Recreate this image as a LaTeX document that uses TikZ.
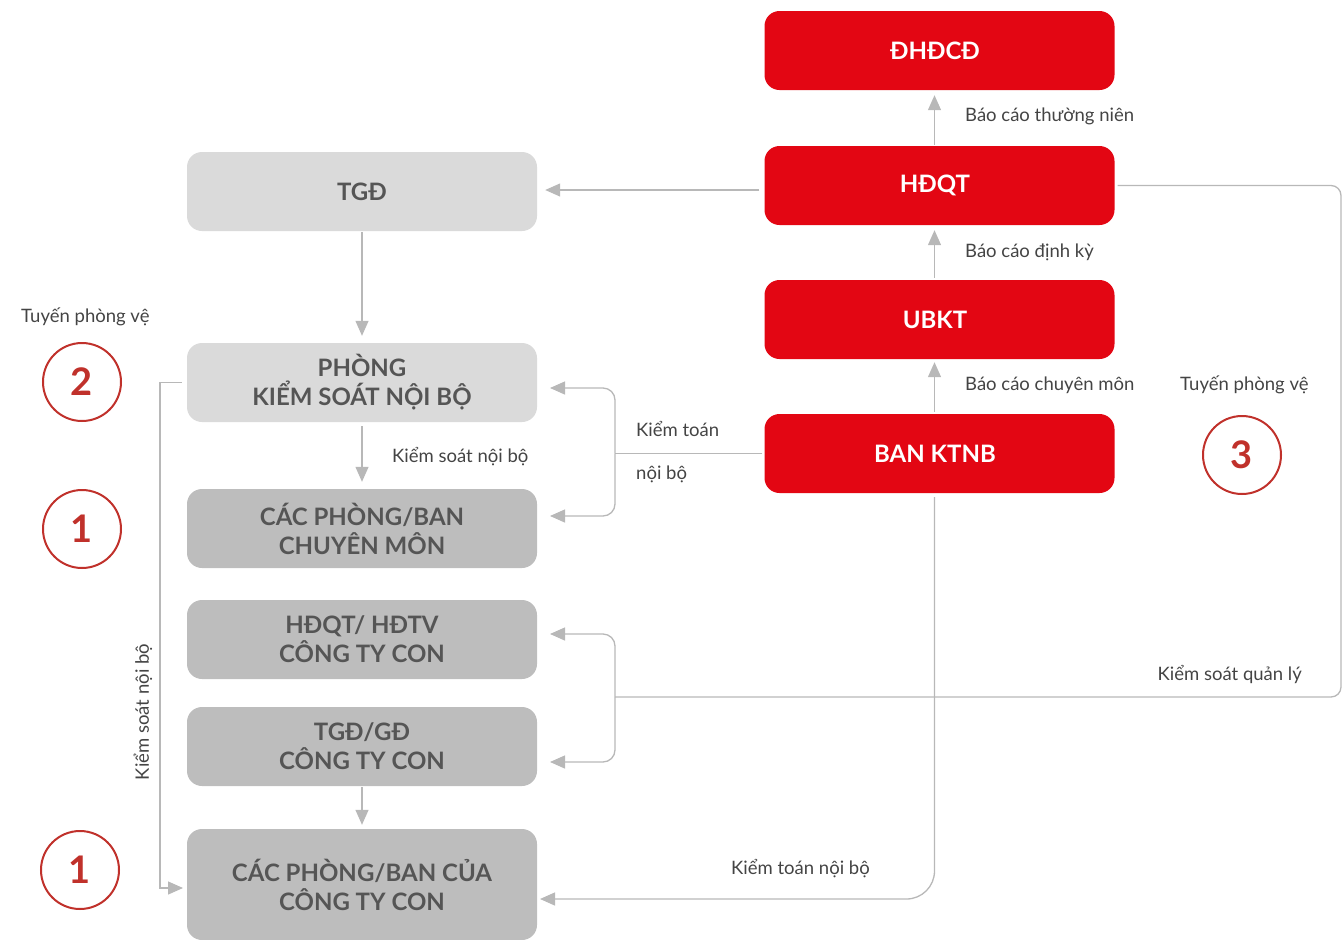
\documentclass[tikz,border=0pt]{standalone}
\usepackage{fontspec}
\setmainfont{Lato}
\usetikzlibrary{arrows.meta}
\definecolor{redbox}{HTML}{E30613}
\definecolor{lgray}{HTML}{DADADA}
\definecolor{dgray}{HTML}{BDBDBD}
\definecolor{btext}{HTML}{555555}
\definecolor{ltext}{HTML}{444444}
\definecolor{linec}{HTML}{B8B8B8}
\definecolor{circc}{HTML}{C0312B}
\begin{document}
\begin{tikzpicture}[x=1pt,y=-1pt,
 box/.style={rounded corners=15pt, minimum width=350pt, minimum height=79pt, inner sep=0pt, align=center, font=\fontsize{24}{29}\selectfont\bfseries},
 redb/.style={box, fill=redbox, text=white},
 lgb/.style={box, fill=lgray, text=btext},
 dgb/.style={box, fill=dgray, text=btext},
 lbl/.style={font=\fontsize{18.5}{22}\selectfont, text=ltext, inner sep=0pt},
 conn/.style={draw=linec, line width=1.3pt, -{Triangle[length=15pt,width=13pt]}},
 plainln/.style={draw=linec, line width=1.3pt},
 num/.style={circle, draw=circc, line width=2pt, minimum size=78pt, inner sep=0pt, text=circc, font=\fontsize{38}{40}\selectfont\bfseries}]
\useasboundingbox (0,0) rectangle (1342,940);
% red boxes
\node[redb] (dhdcd) at (939.5,50.5) {\hspace*{-9pt}ĐHĐCĐ};
\node[redb] (hdqt) at (939.5,185.5) {\hspace*{-9pt}HĐQT};
\node[redb] (ubkt) at (939.5,319.5) {\hspace*{-9pt}UBKT};
\node[redb] (ktnb) at (939.5,453.5) {\hspace*{-9pt}BAN KTNB};
% gray boxes
\node[lgb] (tgd) at (362,191.5) {TGĐ};
\node[lgb] (pksnb) at (362,382.5) {PHÒNG\\KIỂM SOÁT NỘI BỘ};
\node[dgb] (cpb) at (362,528.5) {CÁC PHÒNG/BAN\\CHUYÊN MÔN};
\node[dgb] (hdtv) at (362,639.5) {HĐQT/ HĐTV\\CÔNG TY CON};
\node[dgb] (tgdgd) at (362,746.5) {TGĐ/GĐ\\CÔNG TY CON};
\node[dgb, minimum height=111pt] (cpbc) at (362,884.5) {CÁC PHÒNG/BAN CỦA\\CÔNG TY CON};
% circles
\node[num] (c2) at (82,382) {2};
\node[num] (c1a) at (82,529) {1};
\node[num] (c3) at (1242,455) {3};
\node[num] (c1b) at (80,870) {1};
% labels
\node[lbl, anchor=west] (l1) at (965,116) {Báo cáo thường niên};
\node[lbl, anchor=west] (l2) at (965,252) {Báo cáo định kỳ};
\node[lbl, anchor=west] (l3) at (965,385) {Báo cáo chuyên môn};
\node[lbl, anchor=west] (l4) at (1180,385) {Tuyến phòng vệ};
\node[lbl, anchor=west] (l5) at (21,317) {Tuyến phòng vệ};
\node[lbl, anchor=west] (l6) at (636,429) {Kiểm toán};
\node[lbl, anchor=west] (l7) at (636,474) {nội bộ};
\node[lbl, anchor=west] (l8) at (392,457) {Kiểm soát nội bộ};
\node[lbl, anchor=east] (l9) at (1302,674) {Kiểm soát quản lý};
\node[lbl, anchor=west] (l10) at (731,869) {Kiểm toán nội bộ};
\node[lbl, rotate=90] (l11) at (143,712) {Kiểm soát nội bộ};
% connectors
\draw[conn, shorten <=5pt, shorten >=8pt] ([yshift=-4.5pt]hdqt.west) -- ([yshift=-4.5pt]hdqt.west -| tgd.east);
\draw[conn, shorten <=1pt, shorten >=7pt] (tgd.south) -- (pksnb.north);
\draw[conn, shorten <=4pt, shorten >=7pt] (pksnb.south) -- (cpb.north);
\draw[conn, shorten <=1pt, shorten >=5pt] ([xshift=-5pt]hdqt.north) -- ([xshift=-5pt]dhdcd.south);
\draw[conn, shorten <=2pt, shorten >=5pt] ([xshift=-5pt]ubkt.north) -- ([xshift=-5pt]hdqt.south);
\draw[conn, shorten <=2pt, shorten >=3pt] ([xshift=-5pt]ktnb.north) -- ([xshift=-5pt]ubkt.south);
\draw[conn, shorten <=1pt, shorten >=4pt] (tgdgd.south) -- (cpbc.north);
% bracket from BAN KTNB
\coordinate (j1) at (615,453.5);
\coordinate (a1) at (550,388);
\coordinate (a2) at (550,516);
\draw[plainln, shorten <=2pt] (ktnb.west) -- (j1);
\draw[conn, rounded corners=12pt] (j1) |- (a1);
\draw[conn, rounded corners=12pt] (j1) |- (a2);
% control line from HDQT
\coordinate (r1) at (1341,185.5);
\coordinate (j2) at (615,697);
\coordinate (a3) at (550,634);
\coordinate (a4) at (550,762);
\draw[plainln, rounded corners=10pt, shorten <=3pt] (hdqt.east) -- (r1) |- (j2);
\draw[conn, rounded corners=12pt] (j2) |- (a3);
\draw[conn, rounded corners=12pt] (j2) |- (a4);
% bottom audit line
\coordinate (b1) at (934.5,899);
\coordinate (a5) at (540,899);
\draw[conn, rounded corners=28pt, shorten <=4pt] ([xshift=-5pt]ktnb.south) -- (b1) -- (a5);
% left internal control line
\coordinate (k1) at (160,382.5);
\coordinate (k2) at (160,888);
\coordinate (a6) at (183,888);
\draw[conn, shorten <=5pt] (pksnb.west) -- (k1) -- (k2) -- (a6);
\end{tikzpicture}
\end{document}
